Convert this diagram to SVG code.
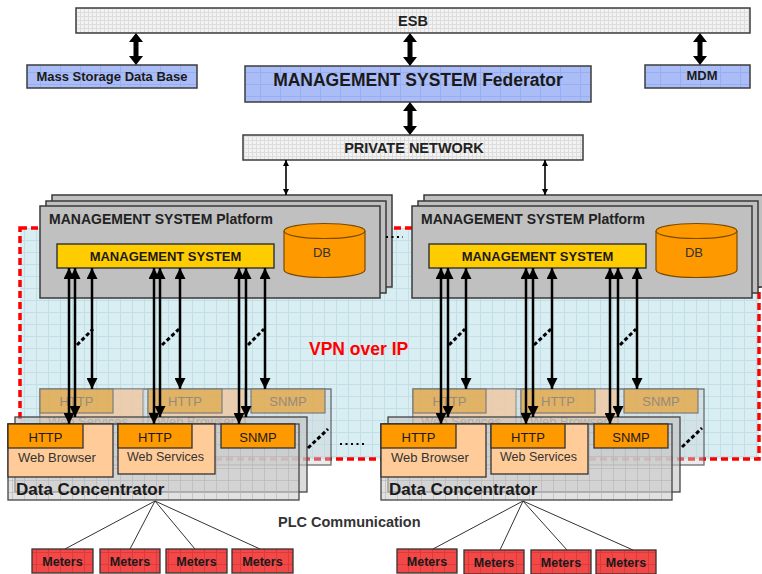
<svg xmlns="http://www.w3.org/2000/svg" width="762" height="574" viewBox="0 0 762 574">
  <defs>
    <pattern id="hatch" width="4" height="4" patternUnits="userSpaceOnUse">
      <rect width="4" height="4" fill="#f2f2f2"/>
      <path d="M0 0.5H4M0.5 0V4" stroke="#dddddd" stroke-width="1"/>
    </pattern>
    <pattern id="blueGrid" width="20" height="12" patternUnits="userSpaceOnUse">
      <rect width="20" height="12" fill="#abbdf6"/>
      <path d="M0.5 0V12M0 0.5H20" stroke="#97aef4" stroke-width="1"/>
    </pattern>
    <pattern id="vpnGrid" width="12" height="12" patternUnits="userSpaceOnUse">
      <rect width="12" height="12" fill="#d8eef2"/>
      <path d="M0.5 0V12M0 0.5H12" stroke="#c3dfe5" stroke-width="1"/>
    </pattern>
    <pattern id="dcGrid" width="12" height="12" patternUnits="userSpaceOnUse">
      <rect width="12" height="12" fill="#cdcdcd" fill-opacity="0.6"/>
      <path d="M0.5 0V12M0 0.5H12" stroke="#b4b4b4" stroke-opacity="0.6" stroke-width="1"/>
    </pattern>
    <pattern id="meterGrid" width="12" height="12" patternUnits="userSpaceOnUse">
      <rect width="12" height="12" fill="#f24848"/>
      <path d="M0.5 0V12M0 0.5H12" stroke="#de3a3a" stroke-width="1"/>
    </pattern>
    <marker id="headBig" viewBox="0 0 12 12" refX="12" refY="6" markerUnits="userSpaceOnUse" markerWidth="13" markerHeight="11" orient="auto-start-reverse">
      <path d="M0,0 L12,6 L0,12 Z" fill="#000"/>
    </marker>
    <marker id="headSmall" viewBox="0 0 10 10" refX="10" refY="5" markerUnits="userSpaceOnUse" markerWidth="8" markerHeight="6" orient="auto-start-reverse">
      <path d="M0,0 L10,5 L0,10 Z" fill="#000"/>
    </marker>
  </defs>
  <style>
    text { font-family: "Liberation Sans", Arial, sans-serif; fill: #1a1a1a; }
    .b { font-weight: bold; }
    .mid { text-anchor: middle; }
    .box { stroke: #3c3c3c; stroke-width: 1.5; }
    .plat { fill: #c0c0c0; stroke: #3a3a3a; stroke-width: 1.5; }
    .ms { fill: #ffcc00; stroke: #3a3a3a; stroke-width: 1.5; }
    .db { fill: #ff9900; stroke: #7a4a00; stroke-width: 1.2; }
    .proto { fill: #ff9900; stroke: #333; stroke-width: 1.3; }
    .col { fill: #ffcc99; stroke: #333; stroke-width: 1.3; }
    .bproto { fill: #e3a94f; stroke: #6a6a6a; stroke-width: 1.2; }
    .bcol { fill: #efc9a5; stroke: #8a8a8a; stroke-width: 1.2; }
    .btext { fill: #8a7a66; }
    .meter { fill: url(#meterGrid); stroke: #333; stroke-width: 1.3; }
    .link { stroke: #000; stroke-width: 2.5; fill: none; marker-start: url(#headBig); marker-end: url(#headBig); }
    .thin { stroke: #000; stroke-width: 1.6; fill: none; marker-start: url(#headSmall); marker-end: url(#headSmall); }
    .slash { stroke: #000; stroke-width: 3; stroke-dasharray: 4 2.5; fill: none; }
    .dots { stroke: #000; stroke-width: 2; stroke-dasharray: 2 3.5; fill: none; }
    .fan { stroke: #333; stroke-width: 1; fill: none; }
  </style>

  <rect width="762" height="574" fill="#ffffff"/>

  <!-- VPN over IP region -->
  <g id="vpn">
    <rect x="20" y="228" width="739" height="231" fill="url(#vpnGrid)"/>
    <rect x="20" y="228" width="739" height="231" fill="none" stroke="#ff0000" stroke-width="3.5" stroke-dasharray="7 4"/>
    <text x="309" y="355" class="b" font-size="17.5" style="fill:#ff0000">VPN over IP</text>
  </g>

  <!-- top level systems -->
  <g id="esb">
    <rect x="76" y="8" width="674" height="25" fill="url(#hatch)" class="box"/>
    <text x="413" y="26" class="b mid" font-size="14.5" style="fill:#222">ESB</text>
  </g>
  <g id="mass-storage">
    <rect x="27" y="65" width="170" height="23" fill="url(#blueGrid)" class="box"/>
    <text x="112" y="81" class="b mid" font-size="13">Mass Storage Data Base</text>
  </g>
  <g id="federator">
    <rect x="245" y="66" width="346" height="36" fill="url(#blueGrid)" class="box"/>
    <text x="418" y="86" class="b mid" font-size="17.5">MANAGEMENT SYSTEM Federator</text>
  </g>
  <g id="mdm">
    <rect x="645" y="65" width="105" height="23" fill="url(#blueGrid)" class="box"/>
    <text x="702" y="80" class="b mid" font-size="13">MDM</text>
  </g>
  <g id="private-network">
    <rect x="243" y="135" width="340" height="25" fill="url(#hatch)" class="box"/>
    <text x="414" y="153" class="b mid" font-size="14.5" style="fill:#222">PRIVATE NETWORK</text>
  </g>

  <!-- management platforms -->
  <g id="platform-left">
    <rect x="52" y="195" width="340" height="92" class="plat"/>
    <rect x="46" y="201" width="340" height="92" class="plat"/>
    <rect x="40" y="206" width="340" height="92" class="plat"/>
    <text x="49" y="224" class="b" font-size="14" style="fill:#222">MANAGEMENT SYSTEM Platform</text>
    <rect x="57" y="244" width="217" height="24" class="ms"/>
    <text x="165.5" y="261" class="b mid" font-size="13">MANAGEMENT SYSTEM</text>
    <path d="M284,231 V270 A40.5,7.5 0 0 0 365,270 V231" class="db"/>
    <ellipse cx="324.5" cy="231" rx="40.5" ry="7.5" class="db"/>
    <text x="322" y="257" class="mid" font-size="13" style="fill:#333">DB</text>
  </g>
  <g id="platform-right" transform="translate(372,0)">
    <rect x="52" y="195" width="340" height="92" class="plat"/>
    <rect x="46" y="201" width="340" height="92" class="plat"/>
    <rect x="40" y="206" width="340" height="92" class="plat"/>
    <text x="49" y="224" class="b" font-size="14" style="fill:#222">MANAGEMENT SYSTEM Platform</text>
    <rect x="57" y="244" width="217" height="24" class="ms"/>
    <text x="165.5" y="261" class="b mid" font-size="13">MANAGEMENT SYSTEM</text>
    <path d="M284,231 V270 A40.5,7.5 0 0 0 365,270 V231" class="db"/>
    <ellipse cx="324.5" cy="231" rx="40.5" ry="7.5" class="db"/>
    <text x="322" y="257" class="mid" font-size="13" style="fill:#333">DB</text>
  </g>
  <path d="M386,237 H403" class="dots"/>

  <!-- data concentrators -->
  <g id="dc-left">
    <g opacity="0.85">
      <rect x="40" y="389" width="291" height="76" fill="#c9d3d6" fill-opacity="0.5" stroke="#555" stroke-width="1.3"/>
      <rect x="40" y="389" width="103" height="35" class="bcol"/>
      <rect x="148" y="389" width="97" height="35" class="bcol"/>
      <rect x="40" y="389" width="73" height="24" class="bproto"/>
      <rect x="148" y="389" width="74" height="24" class="bproto"/>
      <rect x="251" y="389" width="74" height="24" class="bproto"/>
      <text x="76.5" y="406" class="mid btext" font-size="13">HTTP</text>
      <text x="185" y="406" class="mid btext" font-size="13">HTTP</text>
      <text x="288" y="406" class="mid btext" font-size="13">SNMP</text>
      <text x="48" y="426" class="btext" font-size="13">Web Services</text>
      <text x="157" y="426" class="btext" font-size="13">Web Browser</text>
    </g>
    <rect x="15" y="417" width="292" height="75" fill="#c4c4c4" fill-opacity="0.6" stroke="#444" stroke-width="1.3"/>
    <rect x="8" y="424" width="291" height="76" fill="url(#dcGrid)" stroke="#444" stroke-width="1.3"/>
    <rect x="8" y="424" width="105" height="53" class="col"/>
    <rect x="8" y="424" width="75" height="24" class="proto"/>
    <text x="45.5" y="442" class="mid" font-size="13">HTTP</text>
    <text x="18" y="462" font-size="13" style="fill:#333">Web Browser</text>
    <rect x="118" y="424" width="97" height="50" class="col"/>
    <rect x="118" y="424" width="74" height="24" class="proto"/>
    <text x="155" y="442" class="mid" font-size="13">HTTP</text>
    <text x="127" y="461" font-size="12.5" style="fill:#333">Web Services</text>
    <rect x="221" y="424" width="74" height="24" class="proto"/>
    <text x="258" y="442" class="mid" font-size="13">SNMP</text>
    <text x="16" y="495" class="b" font-size="17">Data Concentrator</text>
  </g>
  <g id="dc-right" transform="translate(373,0)">
    <g opacity="0.85">
      <rect x="40" y="389" width="291" height="76" fill="#c9d3d6" fill-opacity="0.5" stroke="#555" stroke-width="1.3"/>
      <rect x="40" y="389" width="103" height="35" class="bcol"/>
      <rect x="148" y="389" width="97" height="35" class="bcol"/>
      <rect x="40" y="389" width="73" height="24" class="bproto"/>
      <rect x="148" y="389" width="74" height="24" class="bproto"/>
      <rect x="251" y="389" width="74" height="24" class="bproto"/>
      <text x="76.5" y="406" class="mid btext" font-size="13">HTTP</text>
      <text x="185" y="406" class="mid btext" font-size="13">HTTP</text>
      <text x="288" y="406" class="mid btext" font-size="13">SNMP</text>
      <text x="48" y="426" class="btext" font-size="13">Web Services</text>
      <text x="157" y="426" class="btext" font-size="13">Web Browser</text>
    </g>
    <rect x="15" y="417" width="292" height="75" fill="#c4c4c4" fill-opacity="0.6" stroke="#444" stroke-width="1.3"/>
    <rect x="8" y="424" width="291" height="76" fill="url(#dcGrid)" stroke="#444" stroke-width="1.3"/>
    <rect x="8" y="424" width="105" height="53" class="col"/>
    <rect x="8" y="424" width="75" height="24" class="proto"/>
    <text x="45.5" y="442" class="mid" font-size="13">HTTP</text>
    <text x="18" y="462" font-size="13" style="fill:#333">Web Browser</text>
    <rect x="118" y="424" width="97" height="50" class="col"/>
    <rect x="118" y="424" width="74" height="24" class="proto"/>
    <text x="155" y="442" class="mid" font-size="13">HTTP</text>
    <text x="127" y="461" font-size="12.5" style="fill:#333">Web Services</text>
    <rect x="221" y="424" width="74" height="24" class="proto"/>
    <text x="258" y="442" class="mid" font-size="13">SNMP</text>
    <text x="16" y="495" class="b" font-size="17">Data Concentrator</text>
  </g>

  <!-- meters -->
  <g id="meters-left">
    <rect x="32" y="549" width="61" height="24" class="meter"/>
    <text x="62.5" y="566" class="b mid" font-size="12.5">Meters</text>
    <rect x="100" y="549" width="60" height="24" class="meter"/>
    <text x="130" y="566" class="b mid" font-size="12.5">Meters</text>
    <rect x="166" y="549" width="61" height="24" class="meter"/>
    <text x="196.5" y="566" class="b mid" font-size="12.5">Meters</text>
    <rect x="232" y="549" width="61" height="24" class="meter"/>
    <text x="262.5" y="566" class="b mid" font-size="12.5">Meters</text>
  </g>
  <g id="meters-right">
    <rect x="397" y="549" width="60" height="24" class="meter"/>
    <text x="427" y="566" class="b mid" font-size="12.5">Meters</text>
    <rect x="464" y="550" width="60" height="24" class="meter"/>
    <text x="494" y="567" class="b mid" font-size="12.5">Meters</text>
    <rect x="531" y="550" width="60" height="24" class="meter"/>
    <text x="561" y="567" class="b mid" font-size="12.5">Meters</text>
    <rect x="596" y="550" width="60" height="24" class="meter"/>
    <text x="626" y="567" class="b mid" font-size="12.5">Meters</text>
  </g>
  <text x="278" y="527" class="b" font-size="14.5" style="fill:#333">PLC Communication</text>

  <!-- connectors -->
  <g id="connectors">
    <g fill="#000">
      <path d="M136,33 L143,42 L138.5,42 L138.5,56 L143,56 L136,65 L129,56 L133.5,56 L133.5,42 L129,42 Z"/>
      <path d="M410,33 L417,42 L412.5,42 L412.5,57 L417,57 L410,66 L403,57 L407.5,57 L407.5,42 L403,42 Z"/>
      <path d="M700,33 L707,42 L702.5,42 L702.5,56 L707,56 L700,65 L693,56 L697.5,56 L697.5,42 L693,42 Z"/>
      <path d="M410,102 L417,111 L412.5,111 L412.5,126 L417,126 L410,135 L403,126 L407.5,126 L407.5,111 L403,111 Z"/>
    </g>
    <path d="M286,160 V195" class="thin"/>
    <path d="M545,160 V195" class="thin"/>

    <!-- management links, left site -->
    <path d="M69,268 V424" class="link"/>
    <path d="M75,268 V417" class="link"/>
    <path d="M92,268 V389" class="link"/>
    <path d="M154,268 V424" class="link"/>
    <path d="M160,268 V417" class="link"/>
    <path d="M180,268 V389" class="link"/>
    <path d="M239,268 V424" class="link"/>
    <path d="M246,268 V417" class="link"/>
    <path d="M265,268 V389" class="link"/>
    <path d="M77,345 L93,329" class="slash"/>
    <path d="M162,345 L179,329" class="slash"/>
    <path d="M248,345 L264,329" class="slash"/>

    <!-- management links, right site -->
    <path d="M441,268 V424" class="link"/>
    <path d="M448,268 V417" class="link"/>
    <path d="M466,268 V389" class="link"/>
    <path d="M526,268 V424" class="link"/>
    <path d="M533,268 V417" class="link"/>
    <path d="M552,268 V389" class="link"/>
    <path d="M610,268 V424" class="link"/>
    <path d="M618,268 V417" class="link"/>
    <path d="M637,268 V389" class="link"/>
    <path d="M449,345 L465,329" class="slash"/>
    <path d="M534,345 L551,329" class="slash"/>
    <path d="M620,345 L636,329" class="slash"/>

    <!-- further concentrators -->
    <path d="M308,448 L328,429" class="slash"/>
    <path d="M682,447 L702,428" class="slash"/>
    <path d="M340,444 H367" class="dots"/>

    <!-- PLC fan-out -->
    <path d="M155,501 L65,549 M155,501 L130,549 M155,501 L195,549 M155,501 L260,549" class="fan"/>
    <path d="M523,501 L433,549 M523,501 L500,550 M523,501 L567,550 M523,501 L633,550" class="fan"/>
  </g>
</svg>
